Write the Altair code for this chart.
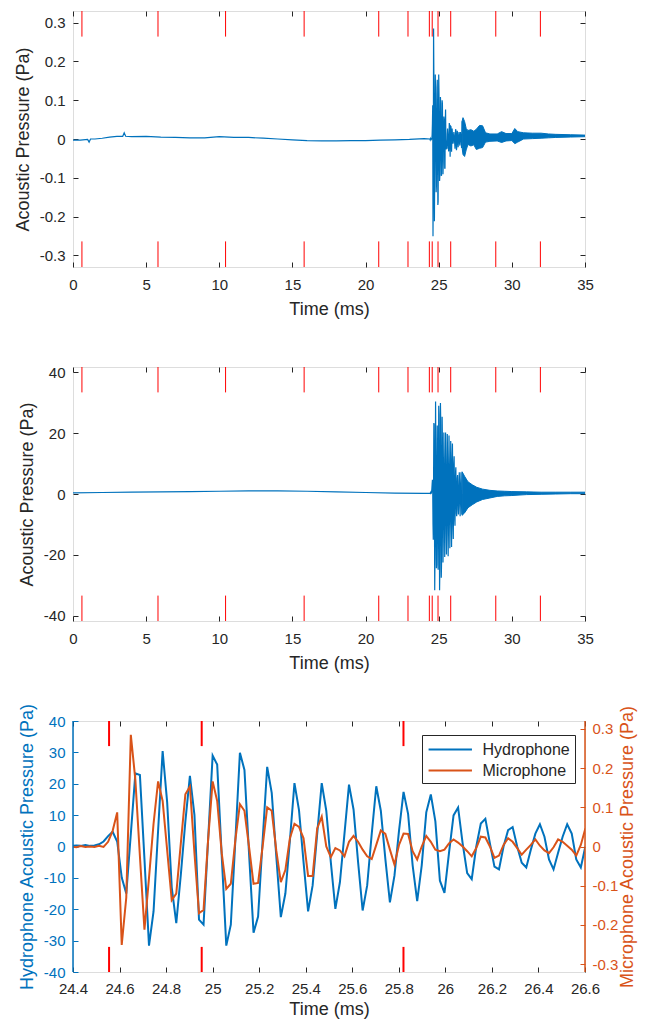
import altair as alt
import pandas as pd

# ---------------- data ----------------
sample_rate_khz = 51.2          # samples per ms
first_sample = 1249             # sample index of first zoom-window sample (24.395 ms)

# zoom window samples, 24.395 ms ... 26.602 ms
hydrophone_zoom = [
    0.2, 0.3, 0.2, 0.5, 0.2, 0.3, 0.7, 1.6, 3.3, 4.7,
    1.6, -9.9, -15.0, 4.0, 23.3, 22.8, -4.0, -31.6, -20.7, 5.0,
    30.4, 14.0, -13.0, -24.4, -9.0, 8.0, 22.5, 10.0, -23.3, -24.9,
    2.0, 29.0, 26.1, -3.0, -31.6, -24.9, 2.0, 29.9, 24.4, -2.0,
    -27.5, -22.3, 2.0, 25.4, 17.1, -3.1, -22.5, -15.0, 2.0, 20.2,
    11.6, -5.0, -20.7, -12.4, 4.0, 20.2, 11.4, -5.0, -19.9, -11.4,
    4.0, 19.7, 11.8, -5.0, -20.4, -12.4, 4.0, 19.2, 11.4, -4.0,
    -17.8, -9.3, 5.0, 17.4, 10.4, -6.0, -17.4, -6.0, 10.9, 16.6,
    8.0, -10.9, -14.8, -2.0, 9.9, 12.4, 1.0, -8.5, -10.4, 0.0,
    7.3, 8.8, 1.0, -6.4, -7.3, 0.0, 5.2, 6.2, 0.0, -5.2,
    -6.7, -1.0, 4.1, 7.1, 3.1, -4.1, -7.3, -2.0, 3.1, 7.1,
    4.1, -4.1, -6.7, 0.0,
]
microphone_zoom = [
    0.0, -0.002, 0.001, -0.001, 0.0, -0.001, 0.002, -0.001, 0.012, 0.04,
    0.087, -0.251, -0.13, 0.285, 0.17, -0.025, -0.212, -0.08, 0.058, 0.166,
    0.116, -0.01, -0.137, -0.12, 0.008, 0.133, 0.153, -0.017, -0.17, -0.162,
    0.017, 0.166, 0.116, -0.017, -0.108, -0.095, 0.017, 0.108, 0.091, 0.0,
    -0.095, -0.093, 0.0, 0.1, 0.091, -0.01, -0.091, -0.06, 0.021, 0.058,
    0.05, 0.021, -0.075, -0.075, 0.046, 0.076, 0.0, -0.027, -0.004, -0.01,
    -0.025, 0.012, 0.027, 0.012, -0.008, -0.025, -0.032, 0.004, 0.041, 0.032,
    -0.008, -0.046, 0.004, 0.033, 0.032, -0.012, -0.033, 0.0, 0.027, 0.012,
    -0.008, -0.012, -0.008, 0.008, 0.018, 0.01, 0.0, -0.012, -0.025, -0.004,
    0.025, 0.023, 0.0, -0.029, -0.023, 0.004, 0.021, 0.012, -0.004, -0.021,
    -0.008, 0.004, 0.018, 0.002, -0.01, -0.017, -0.002, 0.018, 0.012, 0.002,
    -0.008, -0.023, 0.004, 0.046,
]

# quiet part before the event (trace centre)
microphone_quiet_t = [0.0, 0.5, 1.0, 1.1, 1.2, 1.5, 2.0, 2.5, 3.0, 3.4, 3.5, 3.6, 4.0,
                      5.0, 6.0, 7.0, 8.0, 9.0, 10.0, 11.0, 12.0, 13.0, 14.0, 15.0, 16.0,
                      17.0, 18.0, 19.0, 20.0, 21.0, 22.0, 23.0, 24.0]
microphone_quiet_v = [-0.003, -0.003, -0.001, -0.008, 0.0, 0.0, 0.002, 0.005, 0.007, 0.007,
                      0.016, 0.007, 0.006, 0.007, 0.005, 0.004, 0.003, 0.003, 0.006, 0.004,
                      0.004, 0.002, 0.0, -0.002, -0.004, -0.005, -0.005, -0.004, -0.004,
                      -0.003, -0.002, -0.001, 0.001]
hydrophone_quiet_t = [0, 2, 4, 6, 8, 10, 12, 14, 16, 18, 20, 22, 24]
hydrophone_quiet_v = [0.4, 0.5, 0.6, 0.7, 0.8, 0.9, 1.0, 1.0, 0.9, 0.7, 0.5, 0.3, 0.2]

# decaying tail after the zoom window (envelope of the dense oscillation)
microphone_tail_t = [26.6, 26.66, 26.77, 26.88, 27.0, 27.2, 27.4, 27.57, 27.79, 28.0, 28.2,
                     28.5, 29.0, 29.3, 29.6, 30.0, 30.2, 30.4, 30.8, 31.4, 32.0, 32.5, 33.0,
                     34.0, 35.0]
microphone_tail_hi = [0.046, 0.055, 0.045, 0.027, 0.022, 0.024, 0.02, 0.025, 0.035, 0.034,
                      0.016, 0.013, 0.013, 0.019, 0.014, 0.014, 0.027, 0.019, 0.016, 0.015,
                      0.015, 0.013, 0.012, 0.011, 0.01]
microphone_tail_lo = [-0.023, -0.04, -0.045, -0.028, -0.014, -0.018, -0.015, -0.027, -0.024,
                      -0.022, -0.008, -0.006, -0.005, -0.009, -0.005, -0.004, -0.012, -0.008,
                      0.0, 0.001, 0.002, 0.003, 0.004, 0.005, 0.006]
hydrophone_tail_t = [26.6, 26.77, 27.0, 27.3, 27.6, 28.0, 28.5, 29.0, 29.5, 30.0, 31.0, 32.0,
                     33.0, 34.0, 35.0]
hydrophone_tail_hi = [7.3, 5.8, 4.0, 3.0, 2.2, 1.6, 1.2, 1.0, 0.9, 0.8, 0.7, 0.6, 0.6, 0.6, 0.6]
hydrophone_tail_lo = [-7.0, -6.2, -4.5, -3.5, -2.6, -1.8, -1.3, -0.8, -0.6, -0.5, -0.2, -0.1,
                      0.0, 0.1, 0.1]

marker_times = [0.61, 5.81, 10.43, 15.8, 20.9, 22.9, 24.36, 24.555, 24.953, 25.82, 28.9, 31.95]
series_names = ["Hydrophone", "Microphone"]

x_full_domain = [0, 35]
x_full_ticks = [0, 5, 10, 15, 20, 25, 30, 35]
mic_full_domain = [-0.33, 0.33]
mic_ticks = [-0.3, -0.2, -0.1, 0, 0.1, 0.2, 0.3]
hyd_full_domain = [-41.7, 41.7]
hyd_full_ticks = [-40, -20, 0, 20, 40]
x_zoom_domain = [24.4, 26.6]
x_zoom_ticks = [24.4, 24.6, 24.8, 25, 25.2, 25.4, 25.6, 25.8, 26, 26.2, 26.4, 26.6]
hyd_zoom_domain = [-40, 40]
hyd_zoom_ticks = [-40, -30, -20, -10, 0, 10, 20, 30, 40]
mic_zoom_domain = [-0.32, 0.32]

zoom_t = [(first_sample + i) / sample_rate_khz for i in range(len(hydrophone_zoom))]

# ---------------- style ----------------
BLUE = "#0072BD"
ORANGE = "#D95319"
RED = "#FF0000"
INK = "#262626"
FONT = "Liberation Sans"
TICK_FS = 15
TITLE_FS = 18
W = 512
H1, H2, H3 = 256, 254, 251
GAP = 100


def axis(values, title=None, labels=True, color=INK, label_pad=8, title_pad=7, **extra):
    kw = dict(values=values, domain=False, grid=False, ticks=True, tickSize=5, tickWidth=1,
              tickColor=color, offset=-5, labels=labels, labelColor=color, labelFont=FONT,
              labelFontSize=TICK_FS, labelPadding=label_pad, labelFlush=False,
              labelOverlap=False, labelExpr="toString(datum.value)", titleFont=FONT,
              titleFontSize=TITLE_FS, titleFontWeight="normal", titleColor=color,
              titlePadding=title_pad, title=title, titleLimit=2000)
    kw.update(extra)
    return alt.Axis(**kw)


def marker_frame(ydomain):
    span = ydomain[1] - ydomain[0]
    return pd.DataFrame({
        "t": marker_times,
        "top_a": [ydomain[1] - 0.1 * span] * len(marker_times),
        "top_b": [ydomain[1]] * len(marker_times),
        "bot_a": [ydomain[0]] * len(marker_times),
        "bot_b": [ydomain[0] + 0.1 * span] * len(marker_times),
    })


def full_panel(quiet_t, quiet_v, zoom_v, tail_t, tail_hi, tail_lo, ydomain, yticks, height):
    line_df = pd.DataFrame({"t": list(quiet_t) + zoom_t, "v": list(quiet_v) + list(zoom_v)})
    tail_df = pd.DataFrame({"t": tail_t, "hi": tail_hi, "lo": tail_lo})
    mk = marker_frame(ydomain)
    xs = alt.Scale(domain=x_full_domain, nice=False, zero=False)
    ys = alt.Scale(domain=ydomain, nice=False, zero=False)
    line = alt.Chart(line_df).mark_line(color=BLUE, strokeWidth=1.2, clip=True).encode(
        x=alt.X("t:Q", scale=xs, axis=axis(x_full_ticks, "Time (ms)", orient="bottom",
                                            label_pad=10.5, title_pad=8)),
        y=alt.Y("v:Q", scale=ys, axis=axis(yticks, "Acoustic Pressure (Pa)", orient="left")),
    )
    tail = alt.Chart(tail_df).mark_area(color=BLUE, stroke=BLUE, strokeWidth=1, opacity=1,
                                        clip=True).encode(
        x=alt.X("t:Q", scale=xs, axis=None),
        y=alt.Y("hi:Q", scale=ys, axis=None),
        y2="lo:Q",
    )
    top = alt.Chart(mk).mark_rule(color=RED, strokeWidth=1, clip=True).encode(
        x=alt.X("t:Q", scale=xs, axis=axis(x_full_ticks, labels=False, orient="top")),
        y=alt.Y("top_a:Q", scale=ys, axis=axis(yticks, labels=False, orient="right")),
        y2="top_b:Q",
    )
    bot = alt.Chart(mk).mark_rule(color=RED, strokeWidth=1, clip=True).encode(
        x=alt.X("t:Q", scale=xs, axis=None),
        y=alt.Y("bot_a:Q", scale=ys, axis=None),
        y2="bot_b:Q",
    )
    return alt.layer(line, tail, top, bot).resolve_axis(
        x="independent", y="independent").properties(width=W, height=height)


p1 = full_panel(microphone_quiet_t, microphone_quiet_v, microphone_zoom, microphone_tail_t,
                microphone_tail_hi, microphone_tail_lo, mic_full_domain, mic_ticks, H1)
p2 = full_panel(hydrophone_quiet_t, hydrophone_quiet_v, hydrophone_zoom, hydrophone_tail_t,
                hydrophone_tail_hi, hydrophone_tail_lo, hyd_full_domain, hyd_full_ticks, H2)

# ---------------- zoom panel ----------------
hyd_df = pd.DataFrame({"t": zoom_t, "v": hydrophone_zoom, "series": series_names[0]})
mic_df = pd.DataFrame({"t": zoom_t, "v": microphone_zoom, "series": series_names[1]})
zx = alt.Scale(domain=x_zoom_domain, nice=False, zero=False)
hs = alt.Scale(domain=hyd_zoom_domain, nice=False, zero=False)
ms = alt.Scale(domain=mic_zoom_domain, nice=False, zero=False)
legend_y = H1 + GAP + H2 + GAP + 14   # legend sits inside the third panel
color = alt.Color(
    "series:N",
    scale=alt.Scale(domain=series_names, range=[BLUE, ORANGE]),
    legend=alt.Legend(title=None, orient="none", legendX=349, legendY=legend_y,
                      symbolType="M-0.88,0H3.94", symbolSize=324, symbolStrokeWidth=2,
                      symbolFillColor="transparent",
                      labelFont=FONT, labelFontSize=16, labelColor=INK, strokeColor=INK,
                      fillColor="white", padding=4.5, rowPadding=3, labelOffset=36),
)
hyd_line = alt.Chart(hyd_df).mark_line(strokeWidth=2, clip=True).encode(
    x=alt.X("t:Q", scale=zx, axis=axis(x_zoom_ticks, "Time (ms)", orient="bottom",
                                        label_pad=9, title_pad=4)),
    y=alt.Y("v:Q", scale=hs, axis=axis(hyd_zoom_ticks, "Hydrophone Acoustic Pressure (Pa)",
                                        color=BLUE, orient="left")),
    color=color,
)
mic_line = alt.Chart(mic_df).mark_line(strokeWidth=2, clip=True).encode(
    x=alt.X("t:Q", scale=zx, axis=None),
    y=alt.Y("v:Q", scale=ms, axis=axis(mic_ticks, "Microphone Acoustic Pressure (Pa)",
                                        color=ORANGE, orient="right", titleAngle=270,
                                        titleBaseline="top", label_pad=7, title_pad=1)),
    color=color,
)
mkz = marker_frame(hyd_zoom_domain)
top_z = alt.Chart(mkz).mark_rule(color=RED, strokeWidth=2, clip=True).encode(
    x=alt.X("t:Q", scale=zx, axis=axis(x_zoom_ticks, labels=False, orient="top")),
    y=alt.Y("top_a:Q", scale=hs, axis=None),
    y2="top_b:Q",
)
bot_z = alt.Chart(mkz).mark_rule(color=RED, strokeWidth=2, clip=True).encode(
    x=alt.X("t:Q", scale=zx, axis=None),
    y=alt.Y("bot_a:Q", scale=hs, axis=None),
    y2="bot_b:Q",
)
edge_df = pd.DataFrame({"t": x_zoom_domain, "a": [hyd_zoom_domain[0]] * 2,
                        "b": [hyd_zoom_domain[1]] * 2, "side": ["left", "right"]})
left_edge = alt.Chart(edge_df).transform_filter("datum.side == 'left'").mark_rule(
    color=BLUE, strokeWidth=1.5).encode(
    x=alt.X("t:Q", scale=zx, axis=None), y=alt.Y("a:Q", scale=hs, axis=None), y2="b:Q")
right_edge = alt.Chart(edge_df).transform_filter("datum.side == 'right'").mark_rule(
    color=ORANGE, strokeWidth=1.5).encode(
    x=alt.X("t:Q", scale=zx, axis=None), y=alt.Y("a:Q", scale=hs, axis=None), y2="b:Q")

p3 = alt.layer(hyd_line, mic_line, top_z, bot_z, left_edge, right_edge).resolve_scale(
    y="independent").resolve_axis(x="independent", y="independent").properties(
    width=W, height=H3)

chart = alt.vconcat(p1, p2, p3, spacing=GAP, bounds="flush").properties(
    padding={"left": 5, "top": 2, "right": 0, "bottom": 0}
).configure_view(stroke=INK, strokeWidth=1).configure(font=FONT)

chart.save("out.html", embed_options={"renderer": "svg", "actions": False})
